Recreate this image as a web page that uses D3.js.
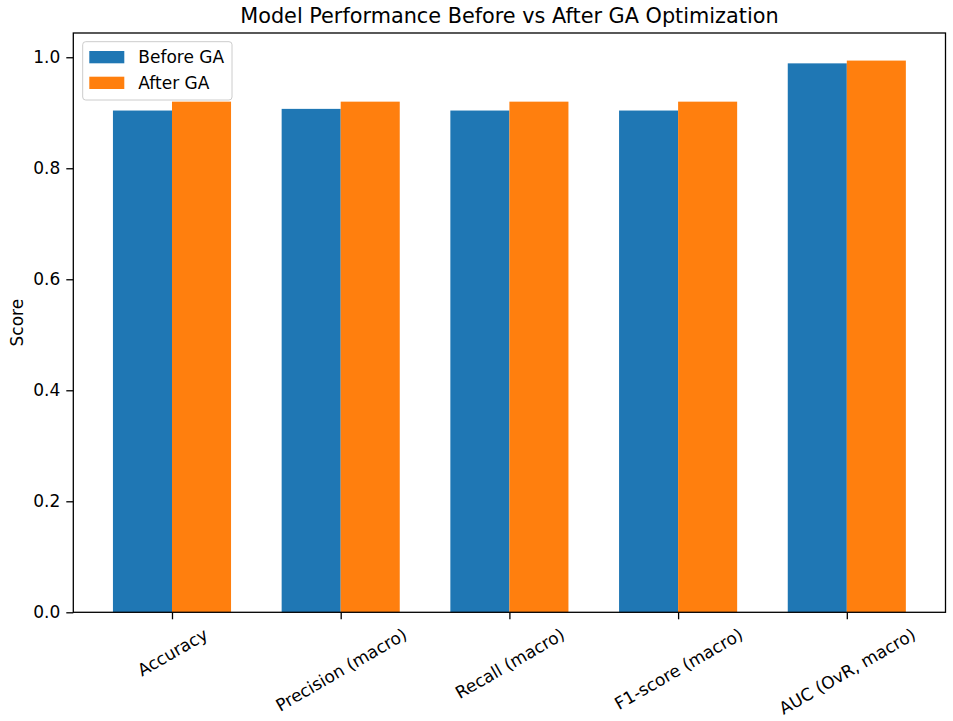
<!DOCTYPE html>
<html>
<head>
<meta charset="utf-8">
<script src="https://cdn.jsdelivr.net/npm/d3@7"></script>
<style>
  body { margin: 0; background: #fff; }
  text { font-family: "DejaVu Sans", sans-serif; fill: #000; }
</style>
</head>
<body>
<svg></svg>
<script>
const WIDTH = 953;
const HEIGHT = 721;

let SVG = d3.select('svg').attr('width', WIDTH).attr('height', HEIGHT);

// ---

const METRICS = ['Accuracy', 'Precision (macro)', 'Recall (macro)', 'F1-score (macro)', 'AUC (OvR, macro)'];
const BEFORE = [0.904, 0.907, 0.904, 0.904, 0.989];
const AFTER = [0.920, 0.920, 0.920, 0.920, 0.994];
const SERIES = ['Before GA', 'After GA'];
const COLORS = ['#1f77b4', '#ff7f0e'];
const Y_TICKS = [0, 0.2, 0.4, 0.6, 0.8, 1.0];

const LEFT = 73.3, RIGHT = 945.5, TOP = 33, BOTTOM = 612.3;
const BAR_W = 0.35;
const FS = 17;

// x like matplotlib: bars at i-0.35..i and i..i+0.35, 5% margins
let xScale = d3.scaleLinear().domain([-0.585, 4.585]).range([LEFT, RIGHT]);
let yMax = d3.max(AFTER.concat(BEFORE)) * 1.05;
let yScale = d3.scaleLinear().domain([0, yMax]).range([BOTTOM, TOP]);

// bars
let groups = [BEFORE, AFTER];
groups.forEach((vals, s) => {
  SVG.append('g')
    .selectAll('rect')
    .data(vals)
    .join('rect')
    .attr('x', (d, i) => xScale(i - BAR_W + s * BAR_W))
    .attr('width', xScale(BAR_W) - xScale(0))
    .attr('y', d => yScale(d))
    .attr('height', d => yScale(0) - yScale(d))
    .attr('fill', COLORS[s]);
});

// y axis
let yAxis = d3.axisLeft(yScale).tickValues(Y_TICKS).tickFormat(d3.format('.1f')).tickSizeInner(7).tickSizeOuter(0).tickPadding(6);
let yAxisG = SVG.append('g').attr('transform', `translate(${LEFT},0)`).call(yAxis);
yAxisG.select('.domain').remove();
yAxisG.selectAll('text').style('font-size', FS + 'px').style('font-family', '"DejaVu Sans", sans-serif').attr('fill', '#000');
yAxisG.selectAll('line').attr('stroke', '#000').attr('stroke-width', 1.3);

// x axis
let xAxis = d3.axisBottom(xScale).tickValues(d3.range(METRICS.length)).tickFormat(i => METRICS[i]).tickSizeInner(7).tickSizeOuter(0);
let xAxisG = SVG.append('g').attr('transform', `translate(0,${BOTTOM})`).call(xAxis);
xAxisG.select('.domain').remove();
xAxisG.selectAll('line').attr('stroke', '#000').attr('stroke-width', 1.3);

// rotated labels, centered under tick, bbox top at tick + pad
xAxisG.selectAll('text').each(function (d) {
  let t = d3.select(this)
    .attr('y', 0).attr('dy', null)
    .style('font-size', FS + 'px')
    .style('font-family', '"DejaVu Sans", sans-serif')
    .attr('fill', '#000')
    .attr('text-anchor', 'middle')
    .attr('dominant-baseline', 'central');
  let w = this.getComputedTextLength();
  let h = FS * 1.15;
  let a = Math.PI / 6;
  let bh = w * Math.sin(a) + h * Math.cos(a);
  t.attr('transform', `translate(0,${12 + bh / 2}) rotate(-30)`);
});

// frame
SVG.append('rect')
  .attr('x', LEFT).attr('y', TOP)
  .attr('width', RIGHT - LEFT).attr('height', BOTTOM - TOP)
  .attr('fill', 'none').attr('stroke', '#000').attr('stroke-width', 1.3);

// title
SVG.append('text')
  .attr('x', (LEFT + RIGHT) / 2).attr('y', 23)
  .attr('text-anchor', 'middle')
  .style('font-size', '20.8px')
  .text('Model Performance Before vs After GA Optimization');

// y label
SVG.append('text')
  .attr('transform', `translate(23,${(TOP + BOTTOM) / 2}) rotate(-90)`)
  .attr('text-anchor', 'middle')
  .style('font-size', FS + 'px')
  .text('Score');

// legend
let legend = SVG.append('g').attr('transform', 'translate(82.7,41.7)');
legend.append('rect')
  .attr('width', 149.3).attr('height', 58.3).attr('rx', 3)
  .attr('fill', '#fff').attr('fill-opacity', 0.8)
  .attr('stroke', '#ccc').attr('stroke-width', 1);
SERIES.forEach((name, i) => {
  legend.append('rect')
    .attr('x', 6.6).attr('y', 9.3 + i * 25.7)
    .attr('width', 35).attr('height', 12.3)
    .attr('fill', COLORS[i]);
  legend.append('text')
    .attr('x', 55.6).attr('y', 21.6 + i * 25.7)
    .style('font-size', FS + 'px')
    .text(name);
});
</script>
</body>
</html>
